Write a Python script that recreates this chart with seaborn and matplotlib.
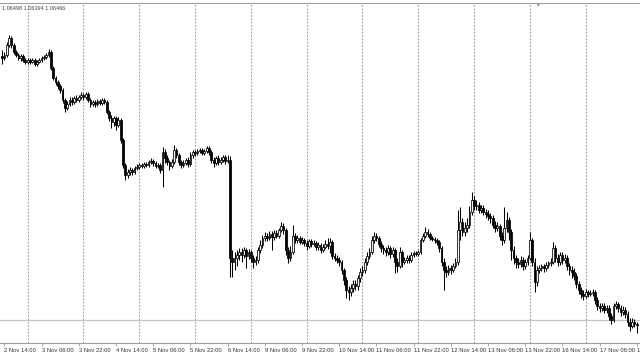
import numpy as np
import pandas as pd
import matplotlib
matplotlib.use("Agg")
import matplotlib.pyplot as plt
import seaborn as sns

sns.set_theme(style="white")
plt.rcParams['font.family'] = ['Liberation Sans', 'DejaVu Sans']

# ---- data (EURUSD H1) ----
first_open = 1.0916
close = [
    1.0914, 1.0917, 1.0927, 1.0934, 1.0927, 1.0920, 1.0917, 1.0914, 1.0916, 1.0912,
    1.0910, 1.0912, 1.0910, 1.0912, 1.0908, 1.0910, 1.0912, 1.0914, 1.0915, 1.0917,
    1.0920, 1.0904, 1.0894, 1.0890, 1.0886, 1.0882, 1.0872, 1.0864, 1.0868, 1.0872,
    1.0870, 1.0874, 1.0872, 1.0875, 1.0877, 1.0875, 1.0878, 1.0872, 1.0868, 1.0870,
    1.0868, 1.0871, 1.0869, 1.0872, 1.0870, 1.0860, 1.0854, 1.0850, 1.0854, 1.0847,
    1.0852, 1.0832, 1.0807, 1.0797, 1.0800, 1.0802, 1.0800, 1.0804, 1.0805, 1.0807,
    1.0806, 1.0808, 1.0807, 1.0810, 1.0811, 1.0809, 1.0806, 1.0807, 1.0802, 1.0820,
    1.0814, 1.0810, 1.0806, 1.0810, 1.0822, 1.0817, 1.0810, 1.0807, 1.0809, 1.0812,
    1.0808, 1.0817, 1.0820, 1.0819, 1.0821, 1.0822, 1.0819, 1.0821, 1.0824, 1.0820,
    1.0812, 1.0809, 1.0814, 1.0810, 1.0812, 1.0815, 1.0811,
    1.0812, 1.0714, 1.0710, 1.0714,
    1.0717, 1.0720, 1.0717, 1.0722, 1.0716, 1.0720, 1.0714, 1.0710, 1.0712,
    1.0722, 1.0727, 1.0734, 1.0736, 1.0734, 1.0738, 1.0735, 1.0739, 1.0736, 1.0742,
    1.0746, 1.0742, 1.0722, 1.0714, 1.0720, 1.0736, 1.0732, 1.0734, 1.0730, 1.0732,
    1.0729, 1.0726, 1.0731, 1.0728, 1.0729, 1.0725, 1.0727, 1.0722, 1.0725, 1.0728,
    1.0726, 1.0730, 1.0716, 1.0714, 1.0712, 1.0710, 1.0702, 1.0692, 1.0682, 1.0680,
    1.0684, 1.0688, 1.0686, 1.0694, 1.0700, 1.0702, 1.0710, 1.0716, 1.0720, 1.0732,
    1.0736, 1.0734, 1.0728, 1.0724, 1.0722, 1.0720, 1.0724, 1.0718, 1.0722, 1.0710,
    1.0706, 1.0720, 1.0710, 1.0712, 1.0714, 1.0712, 1.0717, 1.0719, 1.0718, 1.0720,
    1.0732, 1.0736, 1.0740, 1.0738, 1.0734, 1.0733, 1.0732, 1.0730, 1.0724, 1.0710,
    1.0702, 1.0700, 1.0704, 1.0702, 1.0706, 1.0710, 1.0742, 1.0750, 1.0740, 1.0744,
    1.0747, 1.0760, 1.0772, 1.0766, 1.0767, 1.0762, 1.0764, 1.0760, 1.0758, 1.0756,
    1.0754, 1.0747, 1.0744, 1.0746, 1.0736, 1.0732, 1.0744, 1.0752, 1.0740, 1.0722,
    1.0714, 1.0710, 1.0708, 1.0712, 1.0706, 1.0710, 1.0714, 1.0732, 1.0710, 1.0690,
    1.0702, 1.0704, 1.0706, 1.0704, 1.0707, 1.0709, 1.0710, 1.0724, 1.0714, 1.0710,
    1.0717, 1.0712, 1.0714, 1.0706, 1.0702, 1.0700, 1.0696, 1.0688, 1.0682, 1.0678,
    1.0676, 1.0680, 1.0678, 1.0679, 1.0680, 1.0672, 1.0666, 1.0664, 1.0666, 1.0662,
    1.0664, 1.0656, 1.0652, 1.0666, 1.0668, 1.0664, 1.0660, 1.0662, 1.0658, 1.0650,
    1.0646, 1.0650, 1.0648, 1.06466,
]
high = [
    1.0922, 1.0920, 1.0930, 1.0937, 1.0936, 1.0929, 1.0922, 1.0919, 1.0918, 1.0918,
    1.0914, 1.0914, 1.0914, 1.0914, 1.0914, 1.0912, 1.0914, 1.0916, 1.0917, 1.0919,
    1.0923, 1.0922, 1.0906, 1.0896, 1.0892, 1.0888, 1.0884, 1.0874, 1.0871, 1.0875,
    1.0875, 1.0876, 1.0877, 1.0877, 1.0880, 1.0879, 1.0880, 1.0880, 1.0874, 1.0872,
    1.0872, 1.0873, 1.0873, 1.0874, 1.0874, 1.0872, 1.0862, 1.0857, 1.0856, 1.0856,
    1.0855, 1.0854, 1.0834, 1.0809, 1.0803, 1.0805, 1.0804, 1.0806, 1.0808, 1.0809,
    1.0809, 1.0810, 1.0810, 1.0812, 1.0814, 1.0813, 1.0811, 1.0809, 1.0809, 1.0825,
    1.0823, 1.0817, 1.0812, 1.0813, 1.0827, 1.0824, 1.0819, 1.0812, 1.0812, 1.0814,
    1.0815, 1.0820, 1.0822, 1.0822, 1.0823, 1.0824, 1.0824, 1.0823, 1.0826, 1.0826,
    1.0822, 1.0815, 1.0816, 1.0817, 1.0815, 1.0817, 1.0817,
    1.0817, 1.0816, 1.0722, 1.0720,
    1.0722, 1.0724, 1.0724, 1.0725, 1.0724, 1.0723, 1.0722, 1.0717, 1.0716,
    1.0725, 1.0732, 1.0737, 1.0740, 1.0739, 1.0741, 1.0741, 1.0742, 1.0742, 1.0744,
    1.0750, 1.0749, 1.0744, 1.0725, 1.0726, 1.0747, 1.0739, 1.0737, 1.0736, 1.0735,
    1.0734, 1.0732, 1.0733, 1.0733, 1.0732, 1.0731, 1.0730, 1.0729, 1.0728, 1.0732,
    1.0734, 1.0734, 1.0732, 1.0719, 1.0717, 1.0715, 1.0712, 1.0704, 1.0695, 1.0686,
    1.0688, 1.0692, 1.0692, 1.0697, 1.0704, 1.0706, 1.0714, 1.0720, 1.0724, 1.0736,
    1.0740, 1.0739, 1.0736, 1.0731, 1.0727, 1.0725, 1.0727, 1.0726, 1.0725, 1.0724,
    1.0714, 1.0725, 1.0722, 1.0715, 1.0717, 1.0717, 1.0720, 1.0721, 1.0721, 1.0722,
    1.0734, 1.0739, 1.0745, 1.0743, 1.0740, 1.0736, 1.0735, 1.0734, 1.0732, 1.0726,
    1.0714, 1.0706, 1.0707, 1.0707, 1.0709, 1.0714, 1.0762, 1.0765, 1.0754, 1.0750,
    1.0754, 1.0766, 1.0780, 1.0776, 1.0772, 1.0770, 1.0767, 1.0767, 1.0763, 1.0762,
    1.0759, 1.0757, 1.0751, 1.0750, 1.0748, 1.0740, 1.0765, 1.0760, 1.0755, 1.0743,
    1.0726, 1.0717, 1.0714, 1.0716, 1.0715, 1.0713, 1.0717, 1.0740, 1.0734, 1.0714,
    1.0706, 1.0707, 1.0708, 1.0708, 1.0710, 1.0711, 1.0714, 1.0730, 1.0727, 1.0718,
    1.0720, 1.0720, 1.0718, 1.0717, 1.0709, 1.0706, 1.0704, 1.0699, 1.0691, 1.0685,
    1.0682, 1.0683, 1.0682, 1.0682, 1.0683, 1.0682, 1.0675, 1.0669, 1.0669, 1.0669,
    1.0667, 1.0667, 1.0659, 1.0669, 1.0671, 1.0670, 1.0667, 1.0666, 1.0665, 1.0661,
    1.0654, 1.0654, 1.0653, 1.06498,
]
low = [
    1.0908, 1.0912, 1.0915, 1.0925, 1.0924, 1.0918, 1.0915, 1.0912, 1.0911, 1.0910,
    1.0908, 1.0908, 1.0908, 1.0909, 1.0906, 1.0906, 1.0909, 1.0910, 1.0912, 1.0913,
    1.0915, 1.0902, 1.0892, 1.0887, 1.0883, 1.0879, 1.0869, 1.0860, 1.0862, 1.0866,
    1.0867, 1.0868, 1.0870, 1.0870, 1.0873, 1.0872, 1.0873, 1.0870, 1.0865, 1.0866,
    1.0865, 1.0866, 1.0867, 1.0867, 1.0868, 1.0858, 1.0851, 1.0844, 1.0846, 1.0842,
    1.0845, 1.0829, 1.0804, 1.0792, 1.0794, 1.0797, 1.0797, 1.0798, 1.0802, 1.0803,
    1.0804, 1.0804, 1.0805, 1.0805, 1.0808, 1.0806, 1.0804, 1.0804, 1.0799, 1.0785,
    1.0809, 1.0807, 1.0802, 1.0804, 1.0808, 1.0814, 1.0807, 1.0804, 1.0805, 1.0807,
    1.0805, 1.0806, 1.0814, 1.0816, 1.0817, 1.0819, 1.0817, 1.0817, 1.0819, 1.0817,
    1.0809, 1.0805, 1.0807, 1.0807, 1.0808, 1.0810, 1.0808,
    1.0809, 1.0695, 1.0695, 1.0702,
    1.0706, 1.0712, 1.0710, 1.0714, 1.0704, 1.0713, 1.0710, 1.0704, 1.0707,
    1.0709, 1.0719, 1.0724, 1.0731, 1.0731, 1.0732, 1.0722, 1.0732, 1.0734, 1.0734,
    1.0740, 1.0738, 1.0717, 1.0709, 1.0711, 1.0718, 1.0729, 1.0729, 1.0728, 1.0728,
    1.0726, 1.0722, 1.0724, 1.0725, 1.0726, 1.0722, 1.0722, 1.0719, 1.0720, 1.0723,
    1.0723, 1.0719, 1.0713, 1.0711, 1.0709, 1.0706, 1.0698, 1.0687, 1.0674, 1.0672,
    1.0676, 1.0680, 1.0682, 1.0682, 1.0690, 1.0696, 1.0699, 1.0707, 1.0713, 1.0718,
    1.0729, 1.0731, 1.0725, 1.0720, 1.0718, 1.0716, 1.0717, 1.0714, 1.0715, 1.0699,
    1.0700, 1.0704, 1.0705, 1.0708, 1.0709, 1.0709, 1.0710, 1.0715, 1.0716, 1.0716,
    1.0718, 1.0730, 1.0734, 1.0735, 1.0732, 1.0731, 1.0729, 1.0727, 1.0720, 1.0706,
    1.0682, 1.0695, 1.0697, 1.0698, 1.0700, 1.0704, 1.0707, 1.0732, 1.0736, 1.0736,
    1.0740, 1.0744, 1.0757, 1.0762, 1.0762, 1.0759, 1.0759, 1.0757, 1.0754, 1.0752,
    1.0749, 1.0744, 1.0740, 1.0741, 1.0732, 1.0727, 1.0729, 1.0740, 1.0732, 1.0712,
    1.0708, 1.0704, 1.0704, 1.0705, 1.0702, 1.0703, 1.0707, 1.0712, 1.0706, 1.0680,
    1.0686, 1.0699, 1.0701, 1.0700, 1.0701, 1.0704, 1.0706, 1.0708, 1.0710, 1.0706,
    1.0707, 1.0708, 1.0709, 1.0702, 1.0697, 1.0694, 1.0692, 1.0684, 1.0678, 1.0674,
    1.0672, 1.0674, 1.0675, 1.0676, 1.0676, 1.0668, 1.0662, 1.0660, 1.0661, 1.0659,
    1.0659, 1.0652, 1.0648, 1.0650, 1.0663, 1.0660, 1.0656, 1.0657, 1.0654, 1.0646,
    1.0641, 1.0644, 1.0645, 1.06394,
]
tick_labels = [
    "2 Nov 14:00", "3 Nov 06:00", "3 Nov 22:00", "4 Nov 14:00", "5 Nov 06:00",
    "5 Nov 22:00", "6 Nov 14:00", "9 Nov 06:00", "9 Nov 22:00", "10 Nov 14:00",
    "11 Nov 06:00", "11 Nov 22:00", "12 Nov 14:00", "13 Nov 06:00", "13 Nov 22:00",
    "16 Nov 14:00", "17 Nov 06:00", "17 Nov 22:00",
]
info_text = "1.06498 1.06394 1.06466"
level_line = 1.0652

# ---- build frame ----
n = len(close)
opens = [first_open] + close[:-1]
df = pd.DataFrame({"bar": np.arange(n), "open": opens, "high": high,
                   "low": low, "close": close})
df["high"] = df[["high", "open", "close"]].max(axis=1)
df["low"] = df[["low", "open", "close"]].min(axis=1)

fig = plt.figure(figsize=(6.4, 3.6), dpi=100)
fig.patch.set_facecolor("white")
ax = fig.add_axes([0, 17 / 360, 1, 340 / 360])
ax.set_facecolor("white")

# day separators (every 24 hourly bars, first at 3 Nov 00:00)
for d in range(11, n, 24):
    ax.axvline(d, color="#9a9a9a", lw=0.8, ls=(0, (1.5, 1.5)), zorder=0)
ax.axhline(level_line, color="#c4c4c4", lw=0.9, zorder=0)

# candles
ax.vlines(df["bar"], df["low"], df["high"], color="black", lw=0.75, zorder=2)
body_bottom = df[["open", "close"]].min(axis=1)
body_h = (df["close"] - df["open"]).abs().clip(lower=0.00005)
bull = df["close"] >= df["open"]
ax.bar(df["bar"][bull], body_h[bull], bottom=body_bottom[bull], width=0.75,
       color="#f4f4f4", edgecolor="black", linewidth=0.55, zorder=3)
ax.bar(df["bar"][~bull], body_h[~bull], bottom=body_bottom[~bull], width=0.75,
       color="black", edgecolor="black", linewidth=0.55, zorder=3)

ax.set_xlim(-0.903, 274.37)
ax.set_ylim(1.0629, 1.0969)

pos = [1 + 16 * i for i in range(len(tick_labels))]
ax.set_xticks(pos)
ax.set_xticklabels(tick_labels, ha="left", fontsize=4.2, color="#333333")
ax.tick_params(axis="x", bottom=True, length=2, width=0.5, color="#888888", pad=1.5)
ax.set_yticks([])
for s in ["left", "right"]:
    ax.spines[s].set_visible(False)
for s in ["top", "bottom"]:
    ax.spines[s].set_visible(True)
    ax.spines[s].set_color("#a0a0a0")
    ax.spines[s].set_linewidth(0.8)

fig.text(2 / 640, 1 - 8 / 360, info_text, fontsize=4, va="center", ha="left",
         color="#444444")
fig.text(538 / 640, 1 - 5 / 360, "\u25be", fontsize=4, va="center", ha="center",
         color="#909090", family=["DejaVu Sans"])

fig.savefig("out.png", dpi=100, facecolor="white")
